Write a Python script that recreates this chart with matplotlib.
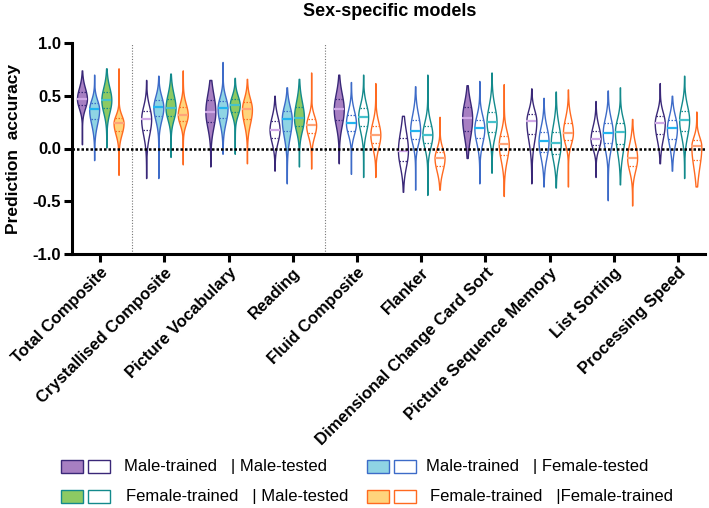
import numpy as np
import matplotlib
matplotlib.use('Agg')
import matplotlib.pyplot as plt
from matplotlib.patches import Rectangle

plt.rcParams['font.family'] = ['Liberation Sans', 'DejaVu Sans']

categories = ['Total Composite', 'Crystallised Composite', 'Picture Vocabulary',
              'Reading', 'Fluid Composite', 'Flanker',
              'Dimensional Change Card Sort', 'Picture Sequence Memory',
              'List Sorting', 'Processing Speed']

series_labels = ['Male-trained   | Male-tested', 'Male-trained   | Female-tested',
                 'Female-trained   | Male-tested', 'Female-trained   |Female-trained']

# five-number summaries per category: [min, q1, median, q3, max]
mm_stats = [
    [0.04, 0.41, 0.47, 0.54, 0.74],
    [-0.28, 0.18, 0.28, 0.36, 0.65],
    [-0.17, 0.25, 0.35, 0.46, 0.65],
    [-0.21, 0.10, 0.18, 0.26, 0.50],
    [-0.14, 0.27, 0.37, 0.47, 0.70],
    [-0.41, -0.12, -0.02, 0.10, 0.31],
    [-0.09, 0.17, 0.29, 0.39, 0.60],
    [-0.33, 0.14, 0.26, 0.33, 0.57],
    [-0.27, 0.03, 0.09, 0.17, 0.45],
    [-0.14, 0.14, 0.24, 0.31, 0.62],
]
mf_stats = [
    [-0.11, 0.28, 0.37, 0.43, 0.70],
    [-0.28, 0.31, 0.39, 0.46, 0.69],
    [-0.05, 0.29, 0.38, 0.45, 0.82],
    [-0.33, 0.17, 0.28, 0.36, 0.58],
    [-0.24, 0.17, 0.24, 0.32, 0.63],
    [-0.39, 0.09, 0.17, 0.27, 0.59],
    [-0.33, 0.10, 0.19, 0.27, 0.64],
    [-0.36, -0.03, 0.07, 0.16, 0.48],
    [-0.49, 0.05, 0.15, 0.24, 0.55],
    [-0.21, 0.09, 0.19, 0.27, 0.50],
]
fm_stats = [
    [0.01, 0.38, 0.46, 0.54, 0.76],
    [-0.08, 0.31, 0.38, 0.47, 0.71],
    [-0.05, 0.35, 0.41, 0.47, 0.67],
    [-0.17, 0.21, 0.29, 0.39, 0.66],
    [-0.27, 0.21, 0.30, 0.38, 0.70],
    [-0.44, 0.05, 0.13, 0.21, 0.70],
    [-0.23, 0.16, 0.25, 0.35, 0.72],
    [-0.37, -0.05, 0.05, 0.16, 0.54],
    [-0.34, 0.04, 0.16, 0.24, 0.58],
    [-0.28, 0.17, 0.27, 0.36, 0.69],
]
ff_stats = [
    [-0.25, 0.17, 0.24, 0.29, 0.76],
    [-0.15, 0.26, 0.32, 0.39, 0.74],
    [-0.14, 0.28, 0.37, 0.44, 0.66],
    [-0.19, 0.15, 0.22, 0.28, 0.72],
    [-0.27, 0.05, 0.13, 0.21, 0.62],
    [-0.39, -0.17, -0.09, -0.03, 0.30],
    [-0.45, -0.06, 0.04, 0.12, 0.61],
    [-0.36, 0.08, 0.15, 0.24, 0.56],
    [-0.54, -0.17, -0.09, 0.00, 0.28],
    [-0.36, -0.11, 0.02, 0.08, 0.35],
]

# 1 = filled violin, 0 = open violin
mm_filled = [1, 0, 1, 0, 1, 0, 1, 0, 0, 0]
mf_filled = [1, 1, 1, 1, 0, 0, 0, 0, 0, 0]
fm_filled = [1, 1, 1, 1, 0, 0, 0, 0, 0, 0]
ff_filled = [1, 1, 1, 0, 0, 0, 0, 0, 0, 0]

series = [
    dict(stats=mm_stats, filled=mm_filled, fill='#a77fc2', edge='#3a2878', med='#cfa8e6'),
    dict(stats=mf_stats, filled=mf_filled, fill='#8fd4e4', edge='#3d6bc8', med='#22b4ef'),
    dict(stats=fm_stats, filled=fm_filled, fill='#8dca63', edge='#138a8c', med='#45c2cc'),
    dict(stats=ff_stats, filled=ff_filled, fill='#ffd47c', edge='#ff6a20', med='#ffa478'),
]
offsets = [-0.285, -0.095, 0.095, 0.285]
vwidth = 0.155

W, H = 709, 508
fig = plt.figure(figsize=(W / 100, H / 100), dpi=100)
ax = fig.add_axes([72 / W, 1 - 254 / H, (705 - 72) / W, (254 - 43) / H])


def make_vpstat(q):
    """Violin outline derived from the five-number summary (split-Gaussian profile)."""
    q = np.asarray(q, dtype=float)
    s_lo = (q[2] - q[1]) / 0.674
    s_hi = (q[3] - q[2]) / 0.674
    coords = np.linspace(q[0], q[-1], 300)
    sig = np.where(coords < q[2], s_lo, s_hi)
    vals = np.exp(-0.5 * ((coords - q[2]) / sig) ** 2)
    vals = vals + 0.015
    return dict(coords=coords, vals=vals, mean=q[2], median=q[2], min=q[0], max=q[-1])


x = np.arange(len(categories))
for s, off in zip(series, offsets):
    for i in range(len(categories)):
        st = make_vpstat(s['stats'][i])
        pos = x[i] + off
        parts = ax.violin([st], positions=[pos], widths=vwidth,
                          showmeans=False, showextrema=False, showmedians=False)
        body = parts['bodies'][0]
        body.set_facecolor(s['fill'] if s['filled'][i] else 'white')
        body.set_edgecolor(s['edge'])
        body.set_linewidth(1.0)
        body.set_alpha(1)
        body.set_zorder(3)
        q = s['stats'][i]
        vmax = st['vals'].max()
        for yv, kind in [(q[1], 'q'), (q[2], 'm'), (q[3], 'q')]:
            hw = np.interp(yv, st['coords'], st['vals']) / vmax * vwidth / 2
            if kind == 'm':
                ax.hlines(yv, pos - hw, pos + hw, colors=s['med'], lw=1.6, zorder=4)
            else:
                ax.hlines(yv, pos - hw * 0.9, pos + hw * 0.9, colors=s['edge'],
                          lw=0.9, linestyles=(0, (1.2, 1.2)), zorder=4)

ax.axhline(0, color='black', lw=1.8, ls=(0, (1, 0.8)), zorder=5)
for xv in [0.5, 3.5]:
    ax.axvline(xv, color='#777777', lw=0.8, ls=(0, (1, 1.5)), zorder=1)

ax.set_xlim(-0.44, 9.42)
ax.set_ylim(-1, 1)
ax.set_yticks([-1.0, -0.5, 0.0, 0.5, 1.0])
ax.set_yticklabels(['-1.0', '-0.5', '0.0', '0.5', '1.0'], fontsize=12, fontweight='bold')
ax.set_xticks(x)
ax.set_xticklabels(categories, rotation=45, ha='right', va='top',
                   rotation_mode='anchor', fontsize=12, fontweight='bold')
for sp in ['top', 'right']:
    ax.spines[sp].set_visible(False)
for sp in ['left', 'bottom']:
    ax.spines[sp].set_linewidth(2.2)
ax.tick_params(axis='both', width=2.2, length=6, direction='out', pad=2)
ax.set_ylabel('Prediction  accuracy', fontsize=12.5, fontweight='bold', labelpad=8)

fig.text(390 / W, 1 - 12 / H, 'Sex-specific models', ha='center', va='center',
         fontsize=13, fontweight='bold')

# legend
leg_cols = [(61, 124), (367, 426), (61, 126), (367, 430)]
leg_rows = [466, 466, 496, 496]
for idx in range(4):
    s = series[idx]
    px, tx = leg_cols[idx]
    py = leg_rows[idx]
    for k, fc in enumerate([s['fill'], 'white']):
        rx = px + k * 27
        fig.add_artist(Rectangle((rx / W, 1 - (py + 6.5) / H), 22 / W, 13 / H,
                                 transform=fig.transFigure, facecolor=fc,
                                 edgecolor=s['edge'], lw=1.0))
    fig.text(tx / W, 1 - py / H, series_labels[idx], ha='left', va='center', fontsize=12)

fig.savefig('out.png', dpi=100)
